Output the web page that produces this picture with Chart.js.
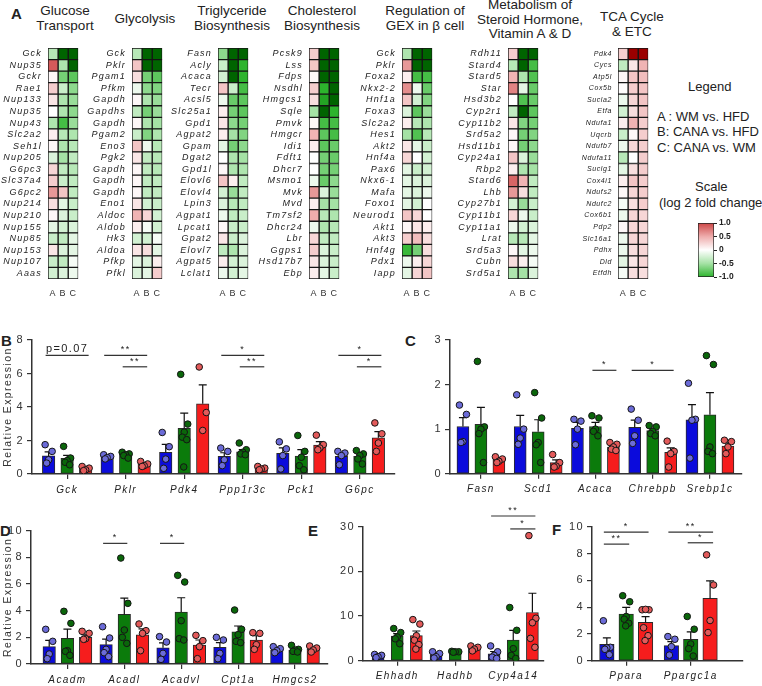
<!DOCTYPE html>
<html>
<head>
<meta charset="utf-8">
<script src="https://cdn.jsdelivr.net/npm/chart.js@4.4.1/dist/chart.umd.min.js"></script>
<style>
  body { margin: 0; background: #fff; }
  #fig { position: relative; width: 762px; height: 686px; overflow: hidden;
         font-family: 'Liberation Sans', Arial, sans-serif; color: #222; }
  #fig canvas { position: absolute; }
  .ttl { position: absolute; width: 150px; font-size: 13.5px; line-height: 14.5px;
         text-align: center; white-space: nowrap; }
  .lg { position: absolute; font-size: 13px; line-height: 15px; white-space: nowrap; }
  .pl { position: absolute; font-size: 15px; font-weight: bold; }
</style>
</head>
<body>
<div id="fig">
  <div class="pl" style="left:11px;top:5px">A</div>
  <div class="pl" style="left:1px;top:332px">B</div>
  <div class="pl" style="left:405px;top:332px">C</div>
  <div class="pl" style="left:0px;top:522px">D</div>
  <div class="pl" style="left:308px;top:522px">E</div>
  <div class="pl" style="left:552px;top:521px">F</div>

  <div class="ttl" style="left:-10px;top:4px">Glucose<br>Transport</div>
  <div class="ttl" style="left:70px;top:12px">Glycolysis</div>
  <div class="ttl" style="left:157px;top:4px">Triglyceride<br>Biosynthesis</div>
  <div class="ttl" style="left:247px;top:4px">Cholesterol<br>Biosynthesis</div>
  <div class="ttl" style="left:350px;top:4px">Regulation of<br>GEX in β cell</div>
  <div class="ttl" style="left:455px;top:-2px">Metabolism of<br>Steroid Hormone,<br>Vitamin A &amp; D</div>
  <div class="ttl" style="left:557px;top:10px">TCA Cycle<br>&amp; ETC</div>

  <div class="lg" style="left:688px;top:79px">Legend</div>
  <div class="lg" style="left:657px;top:109px">A : WM vs. HFD</div>
  <div class="lg" style="left:657px;top:124px">B: CANA vs. HFD</div>
  <div class="lg" style="left:657px;top:140px">C: CANA vs. WM</div>
  <div class="lg" style="left:695px;top:179px">Scale</div>
  <div class="lg" style="left:659px;top:195px">(log 2 fold change)</div>
</div>
<script>
// ---- panel A: log2 fold changes, columns A (WM vs HFD), B (CANA vs HFD), C (CANA vs WM)
const comparisons = ['A', 'B', 'C'];

const glucoseGenes = ['Gck','Nup35','Gckr','Rae1','Nup133','Nup35','Nup43','Slc2a2','Seh1l','Nup205',
  'G6pc3','Slc37a4','G6pc2','Nup214','Nup210','Nup155','Nup85','Nup153','Nup107','Aaas'];
const glucoseFc = [[-0.4,-1.5,-1.5],[0.9,-0.45,-1.5],[0.05,-0.7,-0.8],[0.3,-0.3,-0.6],[0.15,-0.45,-0.55],
  [0,-0.45,-0.6],[-0.45,-0.9,-0.55],[0.1,-0.4,-0.45],[0.05,-0.45,-0.4],[-0.2,-0.5,-0.35],
  [0.25,-0.35,-0.4],[0.3,-0.3,-0.35],[0.6,0.35,-0.35],[0.2,-0.15,-0.3],[0.05,-0.2,-0.3],
  [-0.15,-0.25,-0.2],[-0.3,-0.35,-0.15],[0.15,-0.2,-0.15],[-0.3,-0.35,-0.05],[-0.25,-0.2,-0.1]];

const glycoGenes = ['Gck','Pklr','Pgam1','Pfkm','Gapdh','Gapdhs','Gapdh','Pgam2','Eno3','Pgk2',
  'Gapdh','Gapdh','Gapdh','Eno1','Aldoc','Aldob','Hk3','Aldoa','Pfkp','Pfkl'];
const glycoFc = [[-0.4,-1.5,-1.5],[0.35,-1.5,-1.5],[0.2,-0.7,-0.8],[-0.1,-0.6,-0.65],[0.05,-0.45,-0.55],
  [-0.35,-0.7,-0.55],[0.05,-0.45,-0.5],[-0.3,-0.65,-0.45],[0.35,-0.1,-0.4],[0.15,-0.35,-0.4],
  [0.05,-0.35,-0.4],[0.05,-0.35,-0.35],[0.05,-0.35,-0.35],[0.15,-0.25,-0.3],[0.45,0.25,-0.25],
  [0.1,-0.05,-0.25],[-0.25,-0.25,-0.05],[0.15,0.2,-0.15],[-0.15,-0.2,0.1],[-0.2,-0.15,0.3]];

const trigGenes = ['Fasn','Acly','Acaca','Tecr','Acsl5','Slc25a1','Gpd1','Agpat2','Gpam','Dgat2',
  'Gpd1l','Elovl6','Elovl4','Lpin3','Agpat1','Lpcat1','Gpat2','Elovl7','Agpat5','Lclat1'];
const trigFc = [[-0.6,-1.5,-1.5],[-0.3,-1.5,-1.0],[-0.25,-1.5,-1.0],[0.35,-0.3,-0.9],[-0.1,-0.75,-0.8],
  [0.1,-0.7,-0.8],[0.15,-0.6,-0.7],[0.1,-0.5,-0.65],[-0.15,-0.7,-0.6],[0,-0.45,-0.5],
  [0.05,-0.45,-0.45],[0.35,0.1,-0.35],[-0.25,-0.55,-0.35],[-0.2,-0.4,-0.35],[-0.1,-0.35,-0.3],
  [0.05,-0.3,-0.3],[0.15,-0.3,-0.2],[-0.35,-0.45,-0.2],[0.1,-0.25,-0.2],[-0.1,-0.25,-0.15]];

const cholGenes = ['Pcsk9','Lss','Fdps','Nsdhl','Hmgcs1','Sqle','Pmvk','Hmgcr','Idi1','Fdft1',
  'Dhcr7','Msmo1','Mvk','Mvd','Tm7sf2','Dhcr24','Lbr','Ggps1','Hsd17b7','Ebp'];
const cholFc = [[0.3,-1.5,-1.5],[0.35,-1.5,-1.5],[0.05,-1.5,-1.5],[0.3,-1.0,-1.5],[0.2,-1.1,-1.5],
  [-0.5,-1.5,-1.0],[0.05,-0.9,-0.9],[0.45,-0.8,-0.9],[0.1,-0.8,-0.75],[0,-0.7,-0.75],
  [0,-0.7,-0.7],[-0.1,-0.75,-0.6],[0.6,-0.2,-0.55],[0.1,-0.5,-0.5],[0.5,-0.4,-0.45],
  [-0.1,-0.45,-0.4],[0.25,-0.35,-0.35],[0.3,-0.2,-0.3],[0.15,-0.2,-0.3],[0.1,-0.15,-0.3]];

const gexGenes = ['Gck','Pklr','Foxa2','Nkx2-2','Hnf1a','Foxa3','Slc2a2','Hes1','Akt2','Hnf4a',
  'Pax6','Nkx6-1','Mafa','Foxo1','Neurod1','Akt1','Akt3','Hnf4g','Pdx1','Iapp'];
const gexFc = [[-0.45,-1.5,-1.5],[0.6,-1.5,-1.5],[0.1,-0.9,-0.9],[0.65,-0.1,-0.75],[0.35,-0.25,-0.65],
  [-0.2,-0.8,-0.55],[0.1,-0.4,-0.45],[-0.5,-0.85,-0.4],[0.15,-0.15,-0.3],[0.25,0,-0.25],
  [-0.15,-0.3,-0.25],[-0.15,-0.2,-0.2],[-0.15,-0.2,-0.1],[-0.15,-0.25,0],[0.35,0.25,0],
  [0.05,0.15,0.1],[0.3,0.4,0.2],[-0.95,-0.7,0.2],[-0.1,0.1,0.25],[-0.15,0.25,0.35]];

const steroidGenes = ['Rdh11','Stard4','Stard5','Star','Hsd3b2','Cyp2r1','Cyp11b2','Srd5a2','Hsd11b1','Cyp24a1',
  'Rbp2','Stard6','Lhb','Cyp27b1','Cyp11b1','Cyp11a1','Lrat','Srd5a3','Cubn','Srd5a1'];
const steroidFc = [[0.3,-1.5,-1.5],[-0.4,-1.5,-0.9],[0.45,-0.45,-0.85],[0.7,-0.15,-0.75],[0,-0.85,-0.75],
  [-0.35,-1.5,-0.8],[0.15,-0.65,-0.7],[0.05,-0.7,-0.65],[0.05,-0.7,-0.6],[0.35,-0.2,-0.55],
  [0.1,-0.45,-0.5],[0.85,0.45,-0.35],[0.6,0.2,-0.35],[-0.25,-0.55,-0.3],[0.25,-0.1,-0.3],
  [-0.1,-0.25,-0.2],[-0.4,-0.4,-0.15],[0.05,-0.15,-0.1],[0.2,0.1,-0.05],[-0.45,-0.5,-0.2]];

const tcaGenes = ['Pdk4','Cycs','Atp5l','Cox5b','Sucla2','Etfa','Ndufa1','Uqcrb','Ndufb7','Ndufa11',
  'Suclg1','Cox4i1','Ndufs2','Ndufc2','Cox6b1','Pdp2','Slc16a1','Pdhx','Dld','Etfdh'];
const tcaFc = [[0.3,1.5,1.5],[-0.35,0.15,0.45],[0.05,0.35,0.4],[0.02,0.3,0.35],[-0.1,0.25,0.35],
  [-0.25,0.2,0.35],[0.1,0.45,0.3],[-0.3,0.05,0.3],[-0.1,0.25,0.3],[-0.4,0,0.3],
  [-0.15,0.2,0.3],[0.1,0.35,0.3],[0.05,0.25,0.3],[-0.05,0.2,0.3],[-0.1,0.25,0.25],
  [0.05,0.25,0.25],[-0.1,0.25,0.25],[-0.1,0.2,0.25],[-0.15,0.15,0.25],[-0.05,0.2,0.2]];

const scaleTicks = [-1, -0.5, 0, 0.5, 1];

// ---- panels B-F: relative expression, groups HFD (blue), WM (green), CANA (red)
const groups = ['HFD', 'WM', 'CANA'];

const bGenes = ['Gck','Pklr','Pdk4','Ppp1r3c','Pck1','G6pc'];
const bHfd = [1.08, 1.04, 1.29, 1.05, 1.23, 1.05];
const bHfdSem = [0.24, 0.06, 0.48, 0.22, 0.33, 0.18];
const bHfdDots = [[1.75,1.35,0.85,0.65],[1.15,1.05,0.98,0.9],[2.48,1.63,0.89,0.34],[1.55,1.35,0.85,0.5],[1.92,1.5,1.1,0.3],[1.35,1.25,1.1,0.55]];
const bWm = [0.93, 1.19, 2.72, 1.33, 1.07, 1.05];
const bWmSem = [0.18, 0.08, 0.92, 0.13, 0.38, 0.13];
const bWmDots = [[1.65,0.95,0.8,0.7,0.55],[1.3,1.2,1.15,1.1,0.95],[5.95,2.98,2.5,2.2,2.05,0.42],[1.85,1.45,1.3,1.2,1.15],[2.3,1.35,1.0,0.5,0.25],[1.4,1.2,1.1,0.9,0.6]];
const bCana = [0.33, 0.58, 4.19, 0.33, 1.73, 2.16];
const bCanaSem = [0.06, 0.07, 1.13, 0.05, 0.2, 0.37];
const bCanaDots = [[0.45,0.35,0.25,0.2],[0.75,0.6,0.5,0.45],[6.39,3.67,2.6],[0.45,0.35,0.3,0.25],[2.32,1.75,1.55,1.45],[3.05,2.4,1.85,1.35]];
const bSig = [[0,0,2,7.08,'p=0.07'],[1,0,2,7.08,'**'],[1,1,2,6.4,'**'],[3,0,2,7.08,'*'],[3,1,2,6.4,'**'],[5,0,2,7.08,'*'],[5,1,2,6.4,'*']];

const cGenes = ['Fasn','Scd1','Acaca','Chrebpb','Srebp1c'];
const cHfd = [1.06, 1.06, 1.02, 1.04, 1.21];
const cHfdSem = [0.2, 0.25, 0.13, 0.16, 0.34];
const cHfdDots = [[1.54,1.33,0.72,0.7],[1.77,1.0,0.8,0.66],[1.22,1.18,1.0,0.65],[1.45,1.2,0.85,0.68],[2.03,1.22,1.2,0.35]];
const cWm = [1.11, 0.94, 1.06, 0.97, 1.32];
const cWmSem = [0.38, 0.27, 0.09, 0.04, 0.5];
const cWmDots = [[2.52,1.05,1.0,0.9,0.25],[1.82,1.25,0.7,0.65,0.25],[1.3,1.25,1.0,0.95,0.85],[1.08,1.05,0.95,0.9,0.85],[2.65,2.45,0.6,0.5,0.45]];
const cCana = [0.31, 0.25, 0.6, 0.48, 0.62];
const cCanaSem = [0.03, 0.06, 0.04, 0.1, 0.07];
const cCanaDots = [[0.38,0.33,0.28,0.25],[0.43,0.25,0.17,0.15],[0.7,0.66,0.6,0.55,0.52],[0.73,0.5,0.45,0.15],[0.75,0.72,0.6,0.45]];
const cSig = [[2,1,2,2.32,'*'],[3,0,2,2.32,'*']];

const dGenes = ['Acadm','Acadl','Acadvl','Cpt1a','Hmgcs2'];
const dHfd = [1.3, 1.45, 1.22, 1.25, 1.05];
const dHfdSem = [0.47, 0.42, 0.37, 0.36, 0.1];
const dHfdDots = [[2.6,1.7,0.75,0.4],[2.8,1.95,1.1,0.85,0.55],[2.05,1.65,0.8,0.35],[2.0,1.8,0.8,0.4],[1.3,1.15,1.0,0.85]];
const dWm = [1.93, 3.72, 3.9, 2.42, 1.05];
const dWmSem = [0.68, 1.22, 1.07, 0.43, 0.08];
const dWmDots = [[3.95,3.05,1.0,0.95,0.65],[7.95,4.55,2.55,2.0,1.55],[6.65,6.15,3.25,1.9,1.8],[4.05,2.6,2.2,1.7,1.6],[1.4,1.1,1.05,0.95,0.9]];
const dCana = [2.0, 2.18, 1.42, 1.8, 1.1];
const dCanaSem = [0.18, 0.45, 0.38, 0.32, 0.1];
const dCanaDots = [[2.45,2.3,1.9,1.85],[3.0,2.5,2.3,1.0],[2.15,1.75,1.3,0.4],[2.35,2.3,1.45,1.1],[1.35,1.2,1.05,0.9]];
const dSig = [[1,0,1,9.05,'*'],[2,0,1,9.05,'*']];

const eGenes = ['Ehhadh','Hadhb','Cyp4a14'];
const eHfd = [1.05, 1.28, 1.56];
const eHfdSem = [0.12, 0.32, 0.5];
const eHfdDots = [[1.4,1.2,0.9,0.7],[2.0,1.6,0.9,0.6],[3.3,2.0,1.2,0.8,0.5]];
const eWm = [5.5, 2.0, 4.6];
const eWmSem = [0.55, 0.07, 2.2];
const eWmDots = [[7.2,6.3,5.3,4.9,3.8],[2.1,2.0,2.0,1.9],[11.9,6.8,2.7,1.2,0.5]];
const eCana = [5.6, 2.78, 10.8];
const eCanaSem = [1.05, 0.24, 4.3];
const eCanaDots = [[9.2,8.2,5.6,4.6,3.6,2.6],[3.3,3.0,2.6,2.2],[28.0,9.5,8.5,5.0,3.0]];
const eSig = [[2,0,2,32.4,'**'],[2,1,2,29.5,'*']];

const fGenes = ['Ppara','Ppargc1a'];
const fHfd = [1.22, 1.12];
const fHfdSem = [0.48, 0.3];
const fHfdDots = [[2.98,1.0,0.95,0.85,0.45],[1.8,1.6,1.05,0.42]];
const fWm = [3.48, 1.6];
const fWmSem = [0.5, 0.55];
const fWmDots = [[4.85,4.4,3.3,3.1,2.8,2.6],[3.3,2.35,1.25,0.9,0.35]];
const fCana = [2.86, 4.65];
const fCanaSem = [0.43, 1.3];
const fCanaDots = [[3.8,3.8,3.83,2.46,1.87,1.5],[7.9,5.65,3.0,2.1]];
const fSig = [[0,0,2,9.6,'*'],[0,0,1,8.7,'**'],[1,0,2,9.6,'**'],[1,1,2,8.8,'*']];

// ---- styling
const FONT = "'Liberation Sans', Arial, sans-serif";
Chart.defaults.font.family = FONT;
Chart.defaults.color = '#222';
Chart.defaults.animation = false;
Chart.defaults.responsive = false;
Chart.defaults.devicePixelRatio = 1;
Chart.defaults.plugins.legend.display = false;
Chart.defaults.plugins.tooltip.enabled = false;

const barFill = ['#0b0bdc', '#0b7b0b', '#f61d1d'];
const dotFill = ['#6b6bd8', '#0a660a', '#e35a5a'];
const jitterPx = [-3.5, 3.5, 0, -2, 2.5, -0.5];

const heatStops = [
  [-1.5, [0, 100, 0]], [-1, [45, 180, 45]], [-0.5, [165, 226, 165]], [0, [255, 255, 255]],
  [0.5, [238, 172, 172]], [1, [205, 70, 70]], [1.5, [155, 0, 0]]
];

function heatColor(v) {
  v = Math.max(-1.5, Math.min(1.5, v));
  for (let i = 1; i < heatStops.length; i++) {
    const [v1, c1] = heatStops[i];
    if (v <= v1) {
      const [v0, c0] = heatStops[i - 1];
      const t = (v - v0) / (v1 - v0);
      return 'rgb(' + c0.map((c, k) => Math.round(c + (c1[k] - c) * t)).join(',') + ')';
    }
  }
}

const fig = document.getElementById('fig');

function addCanvas(left, top, w, h) {
  const c = document.createElement('canvas');
  c.width = w;
  c.height = h;
  c.style.left = left + 'px';
  c.style.top = top + 'px';
  fig.appendChild(c);
  return c;
}

// letter-spaced text, like the original figure
const spacing = px => ({
  id: 'spacing',
  beforeDraw(chart) { chart.ctx.letterSpacing = px + 'px'; }
});

/**
 * One heatmap of panel A, drawn as stacked horizontal bars (one cell per comparison)
 */
function heatmap(left, genes, fc, fontSize, ls) {
  const labW = 56;
  const canvas = addCanvas(left - labW, 0, labW + 38, 305);
  new Chart(canvas, {
    type: 'bar',
    data: {
      labels: genes,
      datasets: comparisons.map((c, j) => ({
        label: c,
        data: genes.map(() => 1),
        backgroundColor: fc.map(row => heatColor(row[j])),
        borderColor: '#151515',
        borderWidth: 1,
        borderSkipped: false,
        barPercentage: 1,
        categoryPercentage: 1
      }))
    },
    options: {
      indexAxis: 'y',
      layout: { padding: { top: 48, bottom: 4, left: 0, right: 3 } },
      scales: {
        x: {
          type: 'linear', stacked: true, min: 0, max: 3, bounds: 'data',
          grid: { display: false, drawTicks: false }, border: { display: false },
          afterBuildTicks: a => { a.ticks = comparisons.map((c, j) => ({ value: j + 0.5 })); },
          afterFit: a => { a.height = 22; },
          ticks: { padding: 9, font: { size: 9 }, color: '#333', autoSkip: false, maxRotation: 0,
                   callback: (v, i) => comparisons[i] }
        },
        y: {
          stacked: true,
          grid: { display: false, drawTicks: false }, border: { display: false },
          afterFit: a => { a.width = labW; },
          ticks: { padding: 6, autoSkip: false, color: '#222', font: { size: fontSize, style: 'italic' } }
        }
      }
    },
    plugins: [spacing(ls)]
  });
}

heatmap(47.5, glucoseGenes, glucoseFc, 9, 1.2);
heatmap(132, glycoGenes, glycoFc, 9, 1.2);
heatmap(218, trigGenes, trigFc, 9, 1.2);
heatmap(309, cholGenes, cholFc, 9, 1.2);
heatmap(402, gexGenes, gexFc, 9, 1.2);
heatmap(508, steroidGenes, steroidFc, 9, 1.2);
heatmap(618, tcaGenes, tcaFc, 7, 0.6);

// colour scale bar
new Chart(addCanvas(690, 215, 60, 70), {
  type: 'bar',
  data: {
    labels: ['log2 fold change'],
    datasets: [{
      data: [[scaleTicks[0], scaleTicks[scaleTicks.length - 1]]],
      backgroundColor: c => {
        const area = c.chart.chartArea;
        if (!area) return '#fff';
        const g = c.chart.ctx.createLinearGradient(0, area.bottom, 0, area.top);
        scaleTicks.forEach(v => g.addColorStop((v + 1) / 2, heatColor(v)));
        return g;
      },
      borderColor: '#222', borderWidth: 1, borderSkipped: false,
      barPercentage: 1, categoryPercentage: 1
    }]
  },
  options: {
    layout: { padding: { top: 8, bottom: 8, left: 8, right: 0 } },
    scales: {
      x: { display: false },
      y: {
        position: 'right', min: -1, max: 1,
        afterBuildTicks: a => { a.ticks = scaleTicks.map(v => ({ value: v })); },
        afterFit: a => { a.width = 36; },
        grid: { drawOnChartArea: false, tickLength: 3, color: '#222' },
        border: { display: false },
        ticks: { padding: 2, font: { size: 8.5, weight: 'bold' }, color: '#222',
                 callback: v => v === 0 ? '0' : v.toFixed(1) }
      }
    }
  }
});

// error bars (mean + SEM) drawn right after each bar dataset
const errorBars = {
  id: 'errorBars',
  afterDatasetDraw(chart, args) {
    const ds = chart.data.datasets[args.index];
    if (!ds.err) return;
    const { ctx, scales: { y } } = chart;
    ctx.save();
    ctx.strokeStyle = '#111';
    ctx.lineWidth = 1.2;
    args.meta.data.forEach((bar, i) => {
      const top = y.getPixelForValue(ds.data[i].y + ds.err[i]);
      ctx.beginPath();
      ctx.moveTo(bar.x, bar.y);
      ctx.lineTo(bar.x, top);
      ctx.moveTo(bar.x - 4, top);
      ctx.lineTo(bar.x + 4, top);
      ctx.stroke();
    });
    ctx.restore();
  }
};

// significance lines between two bars of one gene
function brackets(sig, pitch) {
  return {
    id: 'brackets',
    afterDraw(chart) {
      const { ctx, scales: { x, y } } = chart;
      ctx.save();
      ctx.strokeStyle = '#333';
      ctx.fillStyle = '#222';
      ctx.lineWidth = 1.2;
      ctx.textAlign = 'center';
      ctx.textBaseline = 'bottom';
      sig.forEach(([gi, a, b, v, txt]) => {
        const x1 = x.getPixelForValue(gi + (a - 1) * pitch) - 3;
        const x2 = x.getPixelForValue(gi + (b - 1) * pitch) + 3;
        const yy = y.getPixelForValue(v);
        ctx.beginPath();
        ctx.moveTo(x1, yy);
        ctx.lineTo(x2, yy);
        ctx.stroke();
        ctx.font = (txt.length > 2 ? '11px ' : '9px ') + FONT;
        ctx.fillText(txt, (x1 + x2) / 2, yy - 1);
      });
      ctx.restore();
    }
  };
}

/**
 * One bar panel: mean bars, SEM error bars, individual mice as dots, significance lines
 */
function barPanel(p) {
  const datasets = [];
  groups.forEach((g, s) => {
    const off = (s - 1) * p.pitch;
    datasets.push({
      type: 'bar', label: g,
      data: p.genes.map((gene, i) => ({ x: i + off, y: p.means[s][i] })),
      err: p.errs[s],
      backgroundColor: barFill[s], borderColor: '#2a2a2a', borderWidth: 1, borderSkipped: false,
      barThickness: p.bw, grouped: false, order: 2
    });
    datasets.push({
      type: 'scatter', label: g + ' mice',
      data: p.genes.flatMap((gene, i) => p.dots[s][i].map((v, k) => ({ x: i + off + jitterPx[k] / p.unit, y: v }))),
      backgroundColor: dotFill[s], borderColor: '#151515', borderWidth: 1, pointRadius: 3.3, order: 1
    });
  });

  new Chart(addCanvas(p.left, p.top, p.w, p.h), {
    type: 'bar',
    data: { datasets },
    options: {
      layout: { padding: p.pad },
      scales: {
        x: {
          type: 'linear', min: p.xmin, max: p.xmax, bounds: 'data', offset: false,
          afterBuildTicks: a => { a.ticks = p.genes.map((g, i) => ({ value: i })); },
          afterFit: a => { a.height = p.xh; },
          ticks: { autoSkip: false, maxRotation: 0, padding: 5, color: '#222',
                   font: { size: 10, style: 'italic' }, callback: (v, i) => p.genes[i] },
          grid: { drawOnChartArea: false, offset: false, tickLength: 5, color: '#333', lineWidth: 1.2 },
          border: { color: '#333', width: 1.5 }
        },
        y: {
          min: 0, max: p.ymax,
          afterFit: a => { a.width = p.yw; },
          ticks: { stepSize: p.step, padding: 3, color: '#333', font: { size: 11 } },
          grid: { drawOnChartArea: false, tickLength: 5, color: '#333', lineWidth: 1.2 },
          border: { color: '#333', width: 1.5 },
          title: { display: !!p.yTitle, text: 'Relative Expression', color: '#333',
                   font: { size: 10.5 }, padding: { top: 2, bottom: 0 } }
        }
      }
    },
    plugins: [spacing(1.4), errorBars, brackets(p.sig, p.pitch)]
  });
}

barPanel({ left: 0, top: 330, w: 400, h: 180, pad: { top: 10, bottom: 10, left: 0, right: 5 },
  yw: 32, xh: 26, xmin: -0.6, xmax: 5.6, ymax: 8, step: 2, yTitle: true,
  pitch: 0.316, bw: 12.5, unit: 58.5, genes: bGenes,
  means: [bHfd, bWm, bCana], errs: [bHfdSem, bWmSem, bCanaSem], dots: [bHfdDots, bWmDots, bCanaDots], sig: bSig });

barPanel({ left: 405, top: 330, w: 357, h: 180, pad: { top: 10, bottom: 10.3, left: 0, right: 20 },
  yw: 45, xh: 26, xmin: -0.54, xmax: 4.56, ymax: 3, step: 1, yTitle: false,
  pitch: 0.314, bw: 12, unit: 57.3, genes: cGenes,
  means: [cHfd, cWm, cCana], errs: [cHfdSem, cWmSem, cCanaSem], dots: [cHfdDots, cWmDots, cCanaDots], sig: cSig });

barPanel({ left: 0, top: 520, w: 335, h: 166, pad: { top: 10.7, bottom: 0, left: 0, right: 7 },
  yw: 31, xh: 22, xmin: -0.64, xmax: 4.58, ymax: 10, step: 2, yTitle: true,
  pitch: 0.32, bw: 12.5, unit: 57, genes: dGenes,
  means: [dHfd, dWm, dCana], errs: [dHfdSem, dWmSem, dCanaSem], dots: [dHfdDots, dWmDots, dCanaDots], sig: dSig });

barPanel({ left: 330, top: 505, w: 222, h: 181, pad: { top: 21.7, bottom: 3.3, left: 0, right: 8 },
  yw: 33, xh: 22, xmin: -0.59, xmax: 2.53, ymax: 30, step: 10, yTitle: false,
  pitch: 0.33, bw: 12, unit: 58, genes: eGenes,
  means: [eHfd, eWm, eCana], errs: [eHfdSem, eWmSem, eCanaSem], dots: [eHfdDots, eWmDots, eCanaDots], sig: eSig });

barPanel({ left: 555, top: 505, w: 207, h: 181, pad: { top: 21.7, bottom: 3.3, left: 0, right: 19 },
  yw: 37, xh: 22, xmin: -0.53, xmax: 1.81, ymax: 10, step: 2, yTitle: false,
  pitch: 0.30, bw: 14.5, unit: 64.7, genes: fGenes,
  means: [fHfd, fWm, fCana], errs: [fHfdSem, fWmSem, fCanaSem], dots: [fHfdDots, fWmDots, fCanaDots], sig: fSig });
</script>
</body>
</html>
